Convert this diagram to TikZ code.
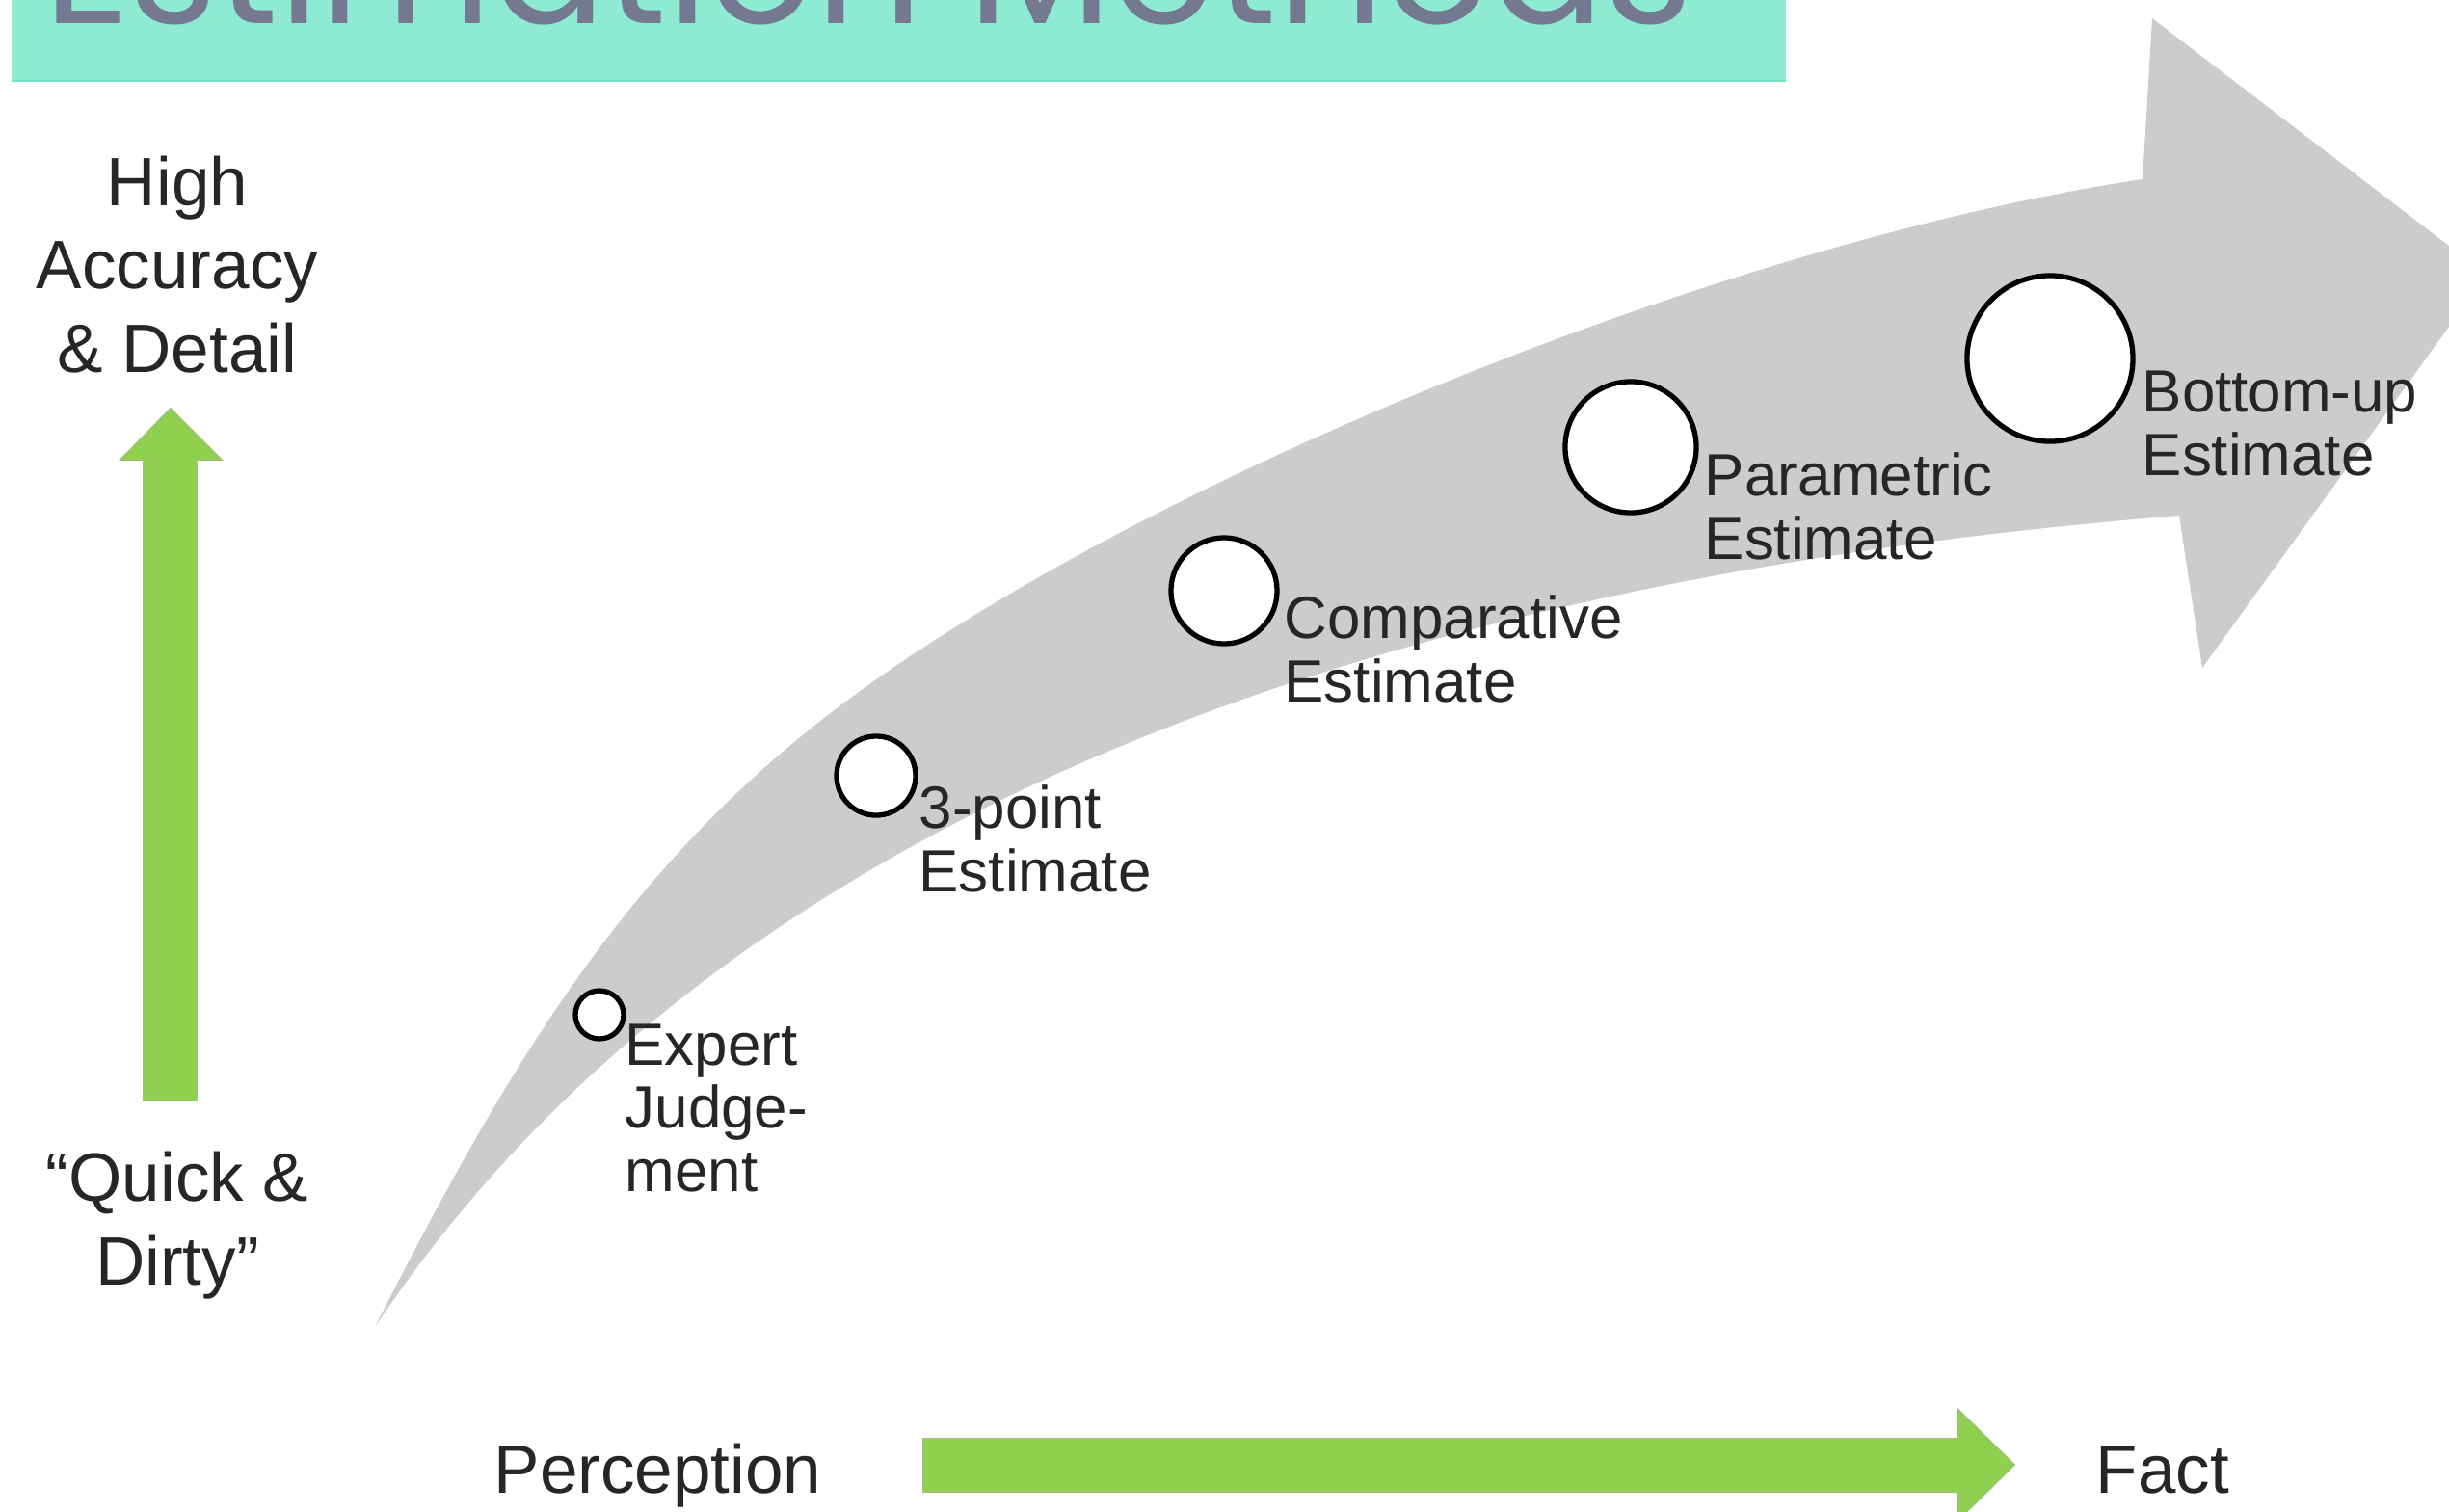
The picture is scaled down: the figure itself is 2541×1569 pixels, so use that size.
\documentclass[tikz,border=0pt]{standalone}
\usepackage{fontspec}
\usepackage{graphicx}
\setmainfont{Liberation Sans}
\newfontfamily\titlefont{Poppins}
\definecolor{titlebg}{HTML}{8EEBD2}
\definecolor{titleline}{HTML}{6FE3C8}
\definecolor{titletext}{HTML}{747891}
\definecolor{arrowgreen}{HTML}{8FD14F}
\definecolor{arrowedge}{HTML}{9CC46A}
\definecolor{bandgrey}{HTML}{CCCCCC}
\definecolor{labeltext}{HTML}{262626}

\begin{document}
\begin{tikzpicture}[x=0.01cm, y=-0.01cm,
   bigtext/.style={align=center, inner sep=0pt, text=labeltext,
      font=\fontsize{20.2}{24.5}\selectfont},
   steptext/.style={align=left, anchor=base west, inner sep=0pt, text=labeltext,
      font=\fontsize{17.6}{18.5}\selectfont},
   stage/.style={circle, draw=black, fill=white, line width=1.5pt, inner sep=0pt}]
   \useasboundingbox (0,0) rectangle (2541,1569);
   \clip (0,0) rectangle (2541,1569);

   % title bar
   \fill[titlebg] (12,-10) rectangle (1853,85);
   \draw[titleline, line width=0.8pt] (12,84) -- (1853,84);
   \node[anchor=base west, inner sep=0pt, text=titletext] (title) at (45,24)
      {\resizebox{17.09cm}{!}{\titlefont Estimation Methods}};

   % grey band
   \fill[bandgrey] (389,1377) .. controls (530,1100) and (650,900) .. (872,732)
      .. controls (1187,496) and (1795,250) .. (2223,186)
      -- (2233,19) -- (2580,285) -- (2285,693) -- (2261,535)
      .. controls (1338,609) and (714,890) .. (389,1377) -- cycle;

   % green arrows
   \filldraw[fill=arrowgreen, draw=arrowedge, line width=0.5pt]
      (149,1142) -- (149,477) -- (125,477) -- (177,424) -- (230,477) -- (204,477) -- (204,1142) -- cycle;
   \filldraw[fill=arrowgreen, draw=arrowedge, line width=0.5pt]
      (958,1493) -- (2032,1493) -- (2032,1463) -- (2090,1520) -- (2032,1577) -- (2032,1548) -- (958,1548) -- cycle;

   % stages
   \node[stage, minimum size=0.50cm] (expert) at (622,1053) {};
   \node[stage, minimum size=0.82cm] (threept) at (909,805) {};
   \node[stage, minimum size=1.10cm] (compar) at (1270,613) {};
   \node[stage, minimum size=1.36cm] (param) at (1692,464) {};
   \node[stage, minimum size=1.72cm] (bottomup) at (2127,372) {};

   % labels sit on the baseline of their last line
   \node[steptext] (expertlbl) at (648,1236) {Expert\\Judge-\\ment};
   \node[steptext] (threeptlbl) at (953,925) {3-point\\Estimate};
   \node[steptext] (comparlbl) at (1332,728) {Comparative\\Estimate};
   \node[steptext] (paramlbl) at (1768,580) {Parametric\\Estimate};
   \node[steptext] (bottomuplbl) at (2222,493) {Bottom-up\\Estimate};

   % axis labels
   \node[bigtext, anchor=base] (high) at (184,386) {High\\Accuracy\\\& Detail};
   \node[bigtext, anchor=base] (quick) at (184,1333) {“Quick \&\\Dirty”};
   \node[bigtext, anchor=base west] (perception) at (512,1549) {Perception};
   \node[bigtext, anchor=base west] (fact) at (2174,1549) {Fact};
\end{tikzpicture}
\end{document}
